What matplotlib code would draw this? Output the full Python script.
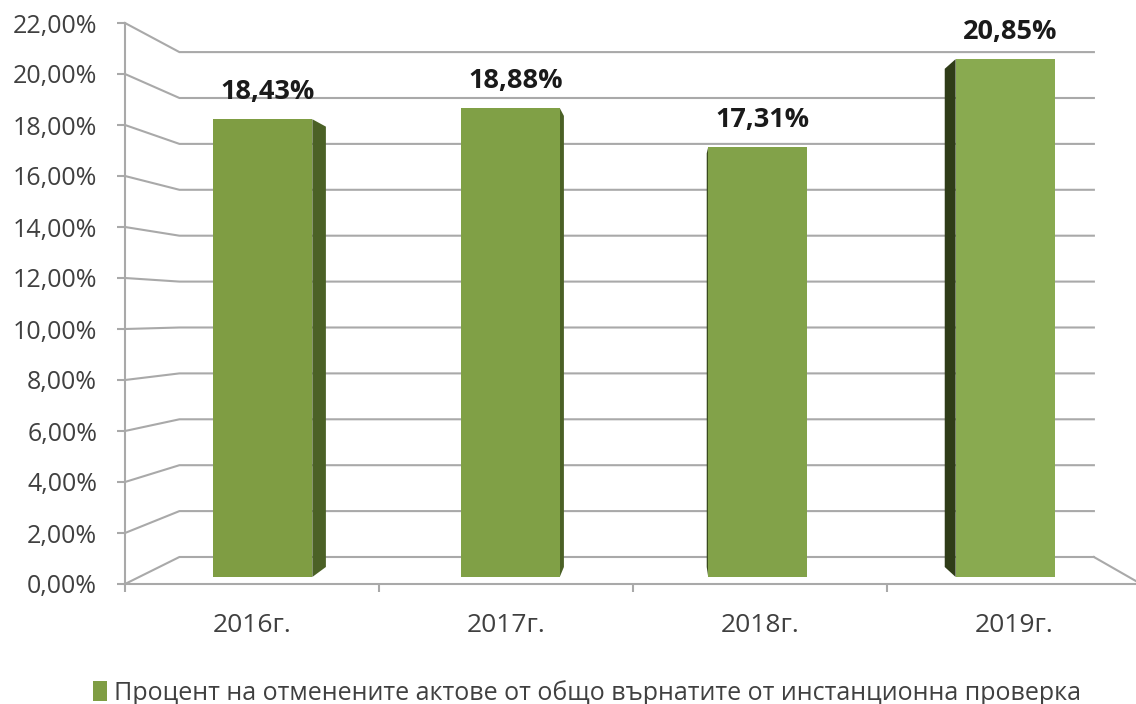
# -*- coding: utf-8 -*-
"""
Процент на отменените актове - псевдо 3D колони (стил Excel)
"""
import numpy as np
import matplotlib
matplotlib.use('Agg')
import matplotlib.pyplot as plt
from matplotlib.patches import Polygon, Patch

plt.rcParams['font.family'] = ['Open Sans', 'DejaVu Sans']

# данни
years = ['2016г.', '2017г.', '2018г.', '2019г.']
values = [18.43, 18.88, 17.31, 20.85]
value_labels = ['18,43%', '18,88%', '17,31%', '20,85%']
y_ticks = np.arange(0, 24, 2)
legend_text = 'Процент на отменените актове от общо върнатите от инстанционна проверка'

# цветове
front_col = ['#7f9d43', '#80a046', '#82a249', '#89aa50']
side_col = ['#4b6126', '#4b6126', '#3a4b1d', '#2f3c18']
grid_col = '#a9a9a9'
text_col = '#404040'

# перспектива (точка на схождане в координати на предната равнина)
VP = (1.642, 10.59)
D_FRONT = 0.26
D_BACK = 0.63
HALF_W = 0.2


def proj(x, y, d):
    k = 1 - 0.1 * d
    return VP[0] + (x - VP[0]) * k, VP[1] + (y - VP[1]) * k


W, H = 1136, 704
fig = plt.figure(figsize=(W / 100, H / 100), dpi=100)
ax = fig.add_axes([125 / W, (H - 584) / H, 1011 / W, 561 / H])
ax.set_xlim(-0.5, 3.48)
ax.set_ylim(0, 22)

# мрежа: диагонал от оста до задната стена + хоризонтала по стената
for v in y_ticks:
    bx0, by0 = proj(-0.5, v, 1)
    bx1, by1 = proj(3.5, v, 1)
    ax.plot([-0.5, bx0, bx1], [v, by0, by1], color=grid_col, lw=1.5,
            clip_on=False, zorder=1, solid_joinstyle='miter')

# под: дясна страна
fx, fy = proj(3.5, 0, 1)
ax.plot([fx, 3.5], [fy, 0], color=grid_col, lw=1.5, clip_on=False, zorder=1)

# колони
for i, v in enumerate(values):
    x0, x1 = i - HALF_W, i + HALF_W
    # страничната стена, която се вижда
    xs = x1 if x1 < VP[0] else x0
    side = [proj(xs, 0, D_FRONT), proj(xs, 0, D_BACK),
            proj(xs, v, D_BACK), proj(xs, v, D_FRONT)]
    ax.add_patch(Polygon(side, closed=True, facecolor=side_col[i],
                         edgecolor='none', zorder=3))
    # предна стена
    lx, by = proj(x0, 0, D_FRONT)
    rx, ty = proj(x1, v, D_FRONT)
    ax.bar(lx, ty - by, width=rx - lx, bottom=by, align='edge',
           color=front_col[i], edgecolor='none', zorder=4)
    cx, _ = proj(i, v, D_FRONT)
    ax.annotate(value_labels[i], (cx, ty), xytext=(5, 27),
                textcoords='offset pixels', ha='center', va='center',
                fontsize=19.5, fontweight='bold', color='#1a1a1a', zorder=5)

# оси
for s in ['top', 'right']:
    ax.spines[s].set_visible(False)
ax.spines['left'].set_color(grid_col)
ax.spines['left'].set_linewidth(1.5)
ax.spines['bottom'].set_color(grid_col)
ax.spines['bottom'].set_linewidth(1.5)
ax.spines['bottom'].set_bounds(-0.5, 3.48)

ax.set_yticks(y_ticks)
ax.set_yticklabels(['{:.2f}%'.format(v).replace('.', ',') for v in y_ticks])
ax.tick_params(axis='y', length=6, width=1.5, color=grid_col, pad=14,
               labelsize=18, labelcolor=text_col)

ax.set_xticks(range(len(years)))
ax.set_xticklabels(years)
ax.set_xticks([-0.5, 0.5, 1.5, 2.5], minor=True)
ax.tick_params(axis='x', which='major', length=0, pad=21,
               labelsize=19, labelcolor=text_col)
ax.tick_params(axis='x', which='minor', length=6, width=1.5, color=grid_col)

# легенда
fig.legend(handles=[Patch(facecolor='#7f9d43', edgecolor='none')],
           labels=[legend_text], loc='center', bbox_to_anchor=(0.517, 0.016),
           frameon=False, handlelength=0.55, handleheight=0.9,
           handletextpad=0.3, fontsize=18, labelcolor=text_col)

fig.savefig('out.png', dpi=100)
